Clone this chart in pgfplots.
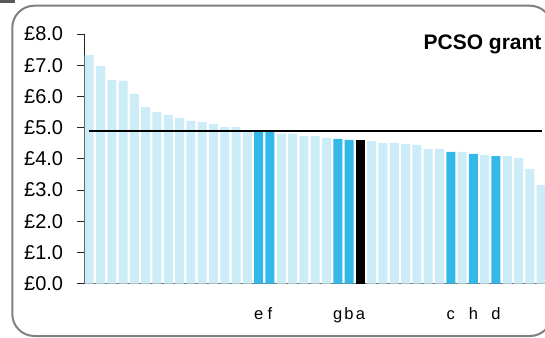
\documentclass[border=0pt]{standalone}
\usepackage{pgfplots}
\pgfplotsset{compat=1.18}
\usepackage{fontspec}
\setmainfont{Liberation Sans}
\definecolor{lightbar}{RGB}{204,236,248}
\definecolor{darkbar}{RGB}{51,185,233}
\definecolor{framegray}{RGB}{128,128,128}

\begin{document}
\begin{tikzpicture}[x=1pt,y=1pt]
\path[use as bounding box, clip] (0,0) rectangle (545,337);
\fill[white] (0,0) rectangle (545,337);
\fill[black!65] (0,333.5) rectangle (15,337);
\draw[framegray, line width=2pt, rounded corners=22pt] (12.3,1) rectangle (552,331.3);
\begin{axis}[
  at={(84.3pt,53.3pt)}, anchor=south west,
  scale only axis, width=460.7pt, height=249.7pt,
  xmin=0.566, xmax=41.34, ymin=0, ymax=8,
  axis x line*=bottom, axis y line*=left,
  x axis line style={draw=black!55, line width=1pt},
  y axis line style={draw=black!85, line width=0.9pt},
  ytick={0,1,2,3,4,5,6,7,8},
  yticklabels={£0.0,£1.0,£2.0,£3.0,£4.0,£5.0,£6.0,£7.0,£8.0},
  tick align=outside,
  major tick length=7pt,
  ytick style={draw=black!85, line width=0.9pt},
  yticklabel style={font=\fontsize{20}{20}\selectfont, anchor=east, inner sep=0pt, xshift=-14pt},
  xtick={16,17,23,24,25,33,35,37},
  xticklabels={e,f,g,b,a,c,h,d},
  x tick style={draw=none},
  xticklabel style={font=\fontsize{16.5}{16.5}\selectfont, anchor=base, inner sep=0pt, yshift=-28.5pt},
]
\addplot[ybar, bar width=9pt, bar shift=0pt, fill=lightbar, draw=none] coordinates {
(1,7.33) (2,6.98) (3,6.53) (4,6.50) (5,6.08) (6,5.66) (7,5.50) (8,5.41) (9,5.31) (10,5.22)
(11,5.18) (12,5.12) (13,5.02) (14,5.02) (15,4.93) (18,4.81) (19,4.81) (20,4.73) (21,4.73) (22,4.67)
(26,4.57) (27,4.51) (28,4.51) (29,4.48) (30,4.45) (31,4.32) (32,4.32) (34,4.22) (36,4.13)
(38,4.09) (39,4.03) (40,3.68) (41,3.16)
};
\addplot[ybar, bar width=9pt, bar shift=0pt, fill=darkbar, draw=none] coordinates {
(16,4.91) (17,4.90) (23,4.64) (24,4.61) (33,4.22) (35,4.16) (37,4.09)
};
\addplot[ybar, bar width=9pt, bar shift=0pt, fill=black, draw=none] coordinates {
(25,4.61)
};
\addplot[black, line width=2.3pt, mark=none] coordinates {(1,4.89) (41.1,4.89)};
\end{axis}
\node[anchor=base east, inner sep=0pt, font=\bfseries\fontsize{21}{21}\selectfont] at (541.7,287) {PCSO grant};
\end{tikzpicture}
\end{document}
